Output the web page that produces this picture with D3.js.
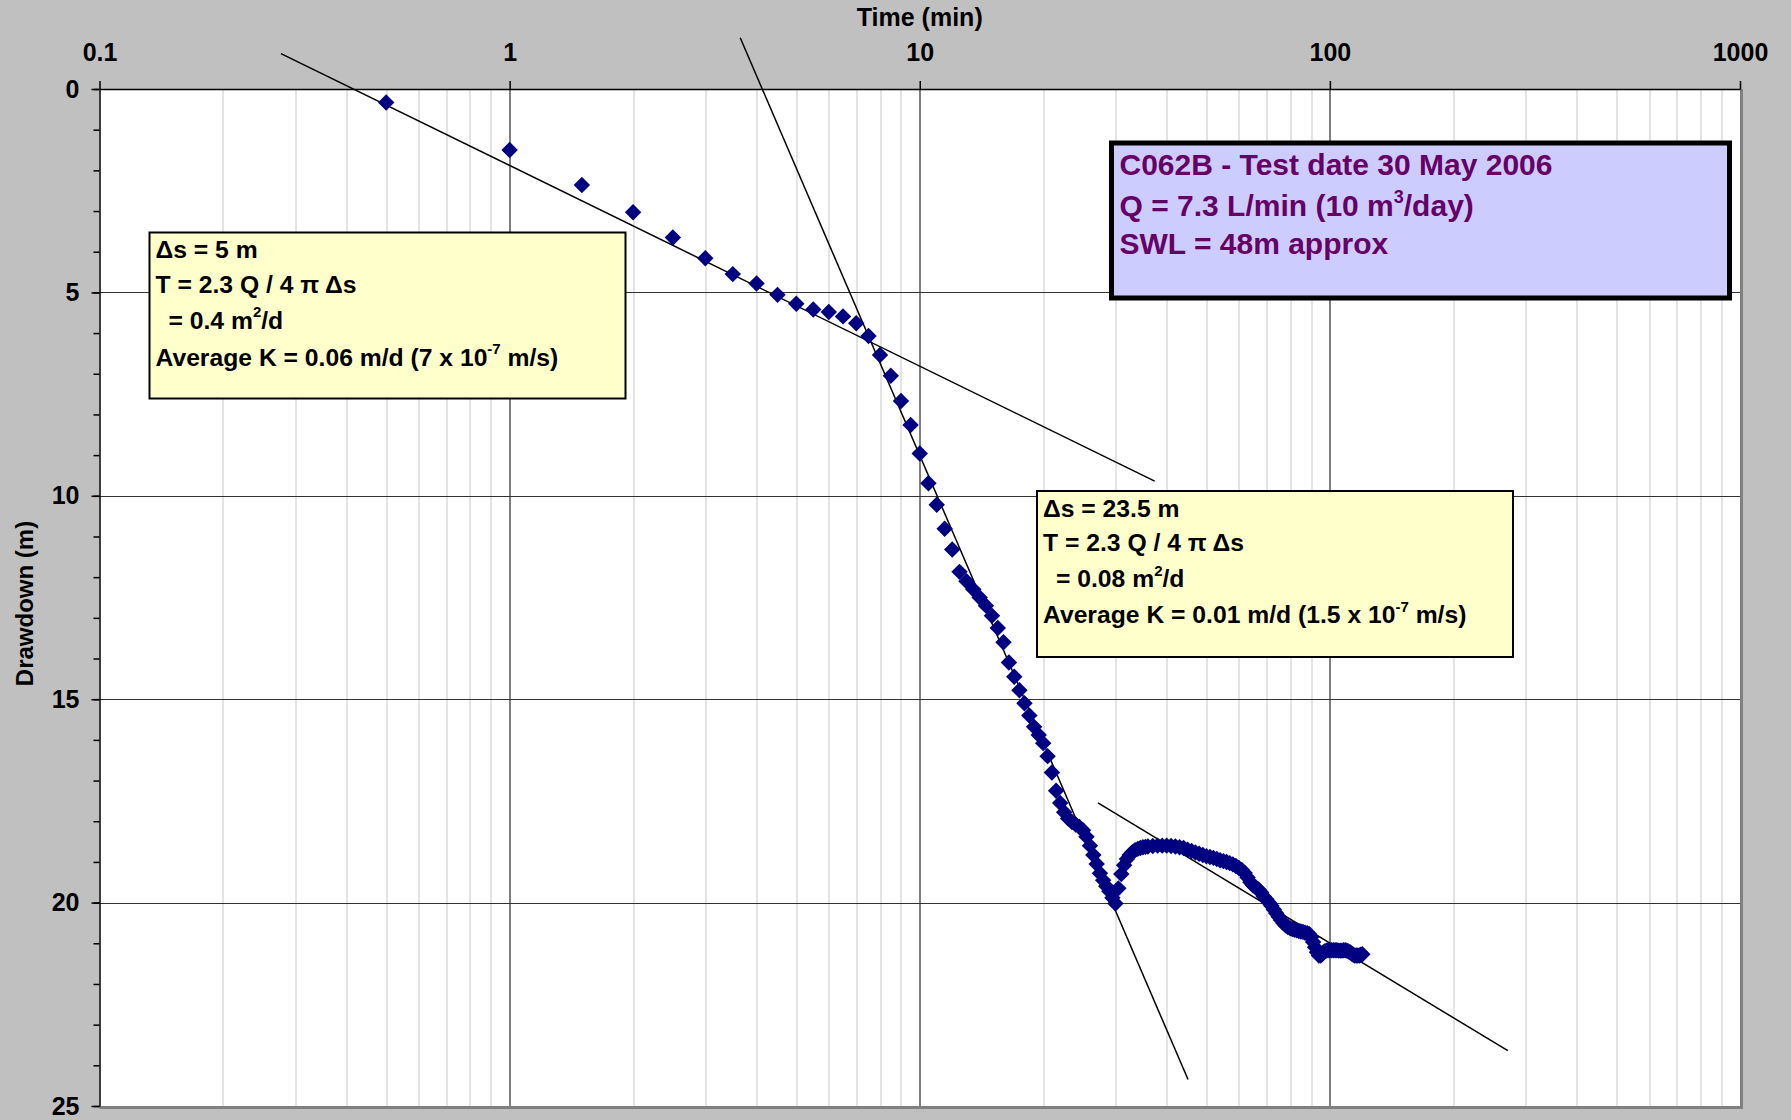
<!DOCTYPE html>
<html>
<head>
<meta charset="utf-8">
<script src="https://cdn.jsdelivr.net/npm/d3@7/dist/d3.min.js"></script>
<style>
  body { margin: 0; background: #c0c0c0; }
  svg { display: block; font-family: "Liberation Sans", Arial, sans-serif; font-weight: bold; }
</style>
</head>
<body>
<svg id="chart"></svg>
<script>
// pumping test C062B - drawdown vs time
const earlyTime = [0.5, 1, 1.5, 2, 2.5, 3, 3.5, 4, 4.5, 5, 5.5, 6, 6.5, 7, 7.5, 8, 8.5, 9, 9.5, 10, 10.5, 11, 11.5, 12];
const earlyDrawdown = [0.33, 1.5, 2.36, 3.03, 3.65, 4.16, 4.55, 4.78, 5.06, 5.28, 5.42, 5.48, 5.59, 5.76, 6.07, 6.54, 7.05, 7.67, 8.26, 8.96, 9.69, 10.22, 10.81, 11.32];

const midTime = [12.5, 13, 13.5, 14, 14.5, 15, 15.5, 16, 16.5, 17, 17.5, 18, 18.5, 19, 19.5, 20, 20.5, 21, 21.5, 22, 22.5, 23, 23.5, 24,
  24.5, 25, 25.5, 26, 26.5, 27, 27.5, 28, 28.5, 29, 29.5, 30, 30.5, 31, 31.5, 32, 32.5, 33, 33.5, 34, 34.5, 35, 35.5];
const midDrawdown = [11.87, 12.1, 12.3, 12.5, 12.7, 12.95, 13.25, 13.6, 14.1, 14.45, 14.78, 15.1, 15.4, 15.68, 15.88, 16.08, 16.4, 16.8, 17.25, 17.55, 17.78, 17.93, 18.02, 18.08,
  18.14, 18.22, 18.38, 18.6, 18.83, 19.05, 19.28, 19.45, 19.6, 19.72, 19.88, 20.02, 19.65, 19.3, 19.08, 18.93, 18.83, 18.76, 18.71, 18.68, 18.66, 18.64, 18.63];

const lateTime = [36, 37, 38, 39, 40, 41, 42, 43, 44, 45, 46, 47, 48, 49, 50, 51, 52, 53, 54, 55, 56, 57, 58, 59, 60,
  61, 62, 63, 64, 65, 66, 67, 68, 69, 70, 71, 72, 73, 74, 75, 76, 77, 78, 79, 80, 81, 82, 83, 84, 85, 86, 87, 88, 89, 90,
  91, 92, 93, 94, 95, 96, 97, 98, 99, 100, 101, 102, 103, 104, 105, 106, 107, 108, 109, 110, 111, 112, 113, 114, 115, 116, 117, 118, 119, 120];
const lateDrawdown = [18.62, 18.61, 18.6, 18.6, 18.6, 18.61, 18.62, 18.64, 18.66, 18.7, 18.73, 18.77, 18.8, 18.83, 18.86, 18.88, 18.9, 18.93, 18.96, 18.98, 19.0, 19.03, 19.06, 19.1, 19.15,
  19.2, 19.27, 19.38, 19.5, 19.58, 19.63, 19.68, 19.75, 19.85, 19.92, 20.0, 20.08, 20.17, 20.26, 20.35, 20.43, 20.5, 20.56, 20.6, 20.63, 20.65, 20.67, 20.68, 20.7, 20.71, 20.72, 20.74, 20.75, 20.77, 20.85,
  20.97, 21.1, 21.22, 21.3, 21.3, 21.25, 21.2, 21.18, 21.17, 21.17, 21.17, 21.17, 21.17, 21.17, 21.18, 21.18, 21.18, 21.17, 21.17, 21.18, 21.2, 21.22, 21.25, 21.28, 21.3, 21.3, 21.3, 21.3, 21.28, 21.27];

// straight-line fits (time, drawdown) at both ends
const fitEarly = [[0.277, -0.87], [37.4, 9.64]];
const fitMiddle = [[3.65, -1.26], [45.1, 24.35]];
const fitLate = [[27.2, 17.55], [271.6, 23.64]];

const xTicks = [0.1, 1, 10, 100, 1000];
const yTicks = [0, 5, 10, 15, 20, 25];

const titleText = ['C062B - Test date 30 May 2006', 'Q = 7.3 L/min (10 m', '3', '/day)', 'SWL = 48m approx'];

class DrawdownPlot {

    constructor(_config, _data) {
        this.config = {
            parentElement: _config.parentElement,
            containerWidth: _config.containerWidth || 1791,
            containerHeight: _config.containerHeight || 1120,
            margin: {top: 89, right: 51, bottom: 14, left: 99.5}
        }
        this.data = _data;
        this.initVis();
    }

    initVis() {
        let vis = this;

        vis.width = vis.config.containerWidth - vis.config.margin.left - vis.config.margin.right;
        vis.height = vis.config.containerHeight - vis.config.margin.top - vis.config.margin.bottom;

        vis.xScale = d3.scaleLog()
            .domain([0.1, 1000])
            .range([0, vis.width]);

        vis.yScale = d3.scaleLinear()
            .domain([0, 25])
            .range([0, vis.height]);

        vis.svg = d3.select(vis.config.parentElement)
            .attr('width', vis.config.containerWidth)
            .attr('height', vis.config.containerHeight);

        vis.svg.append('rect')
            .attr('width', vis.config.containerWidth)
            .attr('height', vis.config.containerHeight)
            .attr('fill', '#c0c0c0');

        vis.chart = vis.svg.append('g')
            .attr('transform', `translate(${vis.config.margin.left},${vis.config.margin.top})`);

        vis.chart.append('rect')
            .attr('width', vis.width)
            .attr('height', vis.height)
            .attr('fill', '#ffffff');

        // shadow edge on right and bottom
        vis.chart.append('path')
            .attr('d', `M${vis.width + 1.5},0V${vis.height + 1.5}H0`)
            .attr('fill', 'none')
            .attr('stroke', '#808080')
            .attr('stroke-width', 3);

        vis.renderVis();
    }

    renderVis() {
        let vis = this;

        // minor vertical grid (2..9 in each decade)
        let minor = [];
        [0.1, 1, 10, 100].forEach(dec => d3.range(2, 10).forEach(k => minor.push(dec * k)));
        vis.chart.append('g').selectAll('line')
            .data(minor)
            .join('line')
            .attr('x1', d => Math.round(vis.xScale(d)) + 0.5)
            .attr('x2', d => Math.round(vis.xScale(d)) + 0.5)
            .attr('y1', 0)
            .attr('y2', vis.height)
            .attr('stroke', '#c8c8c8')
            .attr('stroke-width', 1);

        vis.chart.append('g').selectAll('line')
            .data([1, 10, 100])
            .join('line')
            .attr('x1', d => Math.round(vis.xScale(d)) + 0.5)
            .attr('x2', d => Math.round(vis.xScale(d)) + 0.5)
            .attr('y1', 0)
            .attr('y2', vis.height)
            .attr('stroke', '#000')
            .attr('stroke-width', 1);

        vis.chart.append('g').selectAll('line')
            .data([5, 10, 15, 20])
            .join('line')
            .attr('x1', 0)
            .attr('x2', vis.width)
            .attr('y1', d => Math.round(vis.yScale(d)) + 0.5)
            .attr('y2', d => Math.round(vis.yScale(d)) + 0.5)
            .attr('stroke', '#333')
            .attr('stroke-width', 1);

        // axes
        vis.xAxisG = vis.chart.append('g')
            .call(d3.axisTop(vis.xScale).tickValues(xTicks).tickSize(8).tickSizeOuter(0).tickFormat(d => d));
        vis.xAxisG.selectAll('text')
            .attr('y', -28)
            .style('font-size', '25px')
            .style('font-family', '"Liberation Sans", Arial, sans-serif')
            .style('font-weight', 'bold')
            .attr('fill', '#000');

        vis.chart.append('g')
            .call(d3.axisLeft(vis.yScale).tickValues(d3.range(0, 26)).tickSize(6).tickFormat('').tickSizeOuter(0))
            .call(g => g.select('.domain').remove());

        vis.yAxisG = vis.chart.append('g')
            .call(d3.axisLeft(vis.yScale).tickValues(yTicks).tickSize(8).tickSizeOuter(0));
        vis.yAxisG.selectAll('text')
            .attr('x', -20)
            .style('font-size', '25px')
            .style('font-family', '"Liberation Sans", Arial, sans-serif')
            .style('font-weight', 'bold')
            .attr('fill', '#000');

        vis.chart.selectAll('.domain, .tick line')
            .attr('stroke', '#000')
            .attr('stroke-width', 1.5);

        vis.svg.append('text')
            .attr('x', vis.config.margin.left + vis.xScale(10))
            .attr('y', 26)
            .attr('text-anchor', 'middle')
            .style('font-size', '25px')
            .text('Time (min)');

        vis.svg.append('text')
            .attr('transform', `translate(33,${vis.config.margin.top + vis.height / 2 + 6}) rotate(-90)`)
            .attr('text-anchor', 'middle')
            .style('font-size', '24px')
            .text('Drawdown (m)');

        // fitted straight lines
        let line = d3.line()
            .x(d => vis.xScale(d[0]))
            .y(d => vis.yScale(d[1]));
        vis.chart.selectAll('.fit')
            .data([fitEarly, fitMiddle, fitLate])
            .join('path')
            .attr('class', 'fit')
            .attr('d', line)
            .attr('fill', 'none')
            .attr('stroke', '#000')
            .attr('stroke-width', 1.5);

        // measured points
        let diamond = d3.symbol().type(d3.symbolSquare).size(135);
        vis.chart.selectAll('.point')
            .data(vis.data)
            .join('path')
            .attr('class', 'point')
            .attr('d', diamond)
            .attr('transform', d => `translate(${vis.xScale(d.time)},${vis.yScale(d.drawdown)}) rotate(45)`)
            .attr('fill', '#000080');

        // annotation boxes
        vis.addBox(149.5, 232.5, 476, 166, '#ffffcc', 2, [
            {dx: 6, dy: 25, parts: [['Δs = 5 m']]},
            {dx: 6, dy: 60, parts: [['T = 2.3 Q / 4 π Δs']]},
            {dx: 19, dy: 96, parts: [['= 0.4 m'], ['2', true], ['/d']]},
            {dx: 6, dy: 133, parts: [['Average K = 0.06 m/d (7 x 10'], ['-7', true], [' m/s)']]}
        ], 24.7, '#000');

        vis.addBox(1037, 491, 476, 166, '#ffffcc', 2, [
            {dx: 6, dy: 26, parts: [['Δs = 23.5 m']]},
            {dx: 6, dy: 60, parts: [['T = 2.3 Q / 4 π Δs']]},
            {dx: 19, dy: 96, parts: [['= 0.08 m'], ['2', true], ['/d']]},
            {dx: 6, dy: 132, parts: [['Average K = 0.01 m/d (1.5 x 10'], ['-7', true], [' m/s)']]}
        ], 24.7, '#000');

        vis.addBox(1111.5, 143, 618, 155, '#ccccff', 5, [
            {dx: 8, dy: 32, parts: [[titleText[0]]]},
            {dx: 8, dy: 73, parts: [[titleText[1]], [titleText[2], true], [titleText[3]]]},
            {dx: 8, dy: 111, parts: [[titleText[4]]]}
        ], 30, '#660066');
    }

    addBox(x, y, w, h, fill, strokeWidth, lines, size, color) {
        let vis = this;
        let g = vis.svg.append('g')
            .attr('transform', `translate(${x},${y})`);
        g.append('rect')
            .attr('width', w)
            .attr('height', h)
            .attr('fill', fill)
            .attr('stroke', '#000')
            .attr('stroke-width', strokeWidth);
        lines.forEach(l => {
            let t = g.append('text')
                .attr('x', l.dx)
                .attr('y', l.dy)
                .attr('fill', color)
                .style('font-size', size + 'px')
                .style('white-space', 'pre');
            let raised = false;
            l.parts.forEach(p => {
                let sp = t.append('tspan').text(p[0]);
                if (p[1]) {
                    sp.attr('dy', -size * 0.45).style('font-size', Math.round(size * 0.6) + 'px');
                    raised = true;
                } else if (raised) {
                    sp.attr('dy', size * 0.45);
                    raised = false;
                }
            });
        });
    }
}

const points = d3.zip(earlyTime.concat(midTime, lateTime), earlyDrawdown.concat(midDrawdown, lateDrawdown))
    .map(([time, drawdown]) => ({time, drawdown}));

new DrawdownPlot({parentElement: '#chart'}, points);
</script>
</body>
</html>
